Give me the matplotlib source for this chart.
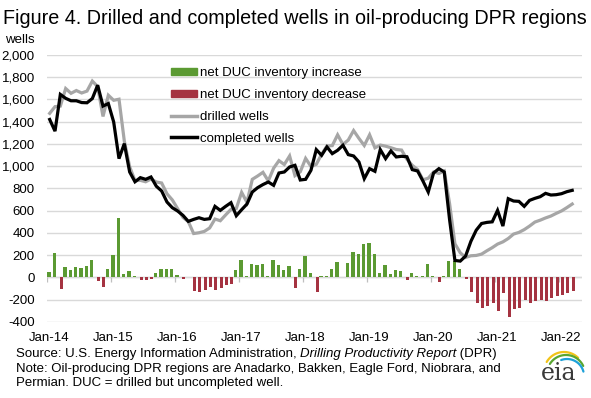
import matplotlib
matplotlib.use('Agg')
import matplotlib.pyplot as plt
import numpy as np
from matplotlib.lines import Line2D
from matplotlib.patches import Patch

plt.rcParams['font.family'] = ['Liberation Sans', 'DejaVu Sans']

# Donnees mensuelles jan-2014 a mars-2022
mois = np.arange(99)
annees = ['Jan-14', 'Jan-15', 'Jan-16', 'Jan-17', 'Jan-18', 'Jan-19', 'Jan-20', 'Jan-21', 'Jan-22']

completed = [1420, 1315, 1645, 1610, 1588, 1588, 1572, 1570, 1608, 1728, 1540, 1563,
             1398, 1068, 1203, 948, 860, 897, 882, 903, 820, 777, 678, 627,
             597, 558, 504, 522, 537, 522, 528, 639, 603, 639, 672, 555,
             609, 660, 768, 807, 835, 858, 828, 939, 948, 993, 1008, 876,
             882, 963, 1149, 1098, 1173, 1113, 1143, 1188, 1104, 1092, 1038, 888,
             978, 954, 1149, 1068, 1137, 1083, 1089, 1085, 969, 957, 867, 768,
             939, 978, 948, 520, 153, 147, 192, 325, 425, 485, 495, 500,
             603, 462, 708, 687, 684, 639, 693, 711, 726, 756, 741, 744,
             753, 771, 783]

drilled = [1475, 1535, 1540, 1698, 1655, 1680, 1658, 1675, 1765, 1715, 1447, 1638,
           1592, 1602, 1225, 995, 870, 873, 860, 885, 858, 849, 752, 697,
           618, 540, 502, 395, 402, 414, 445, 525, 510, 562, 612, 620,
           765, 675, 882, 912, 945, 868, 982, 1050, 1015, 1092, 915, 950,
           1070, 998, 1017, 1107, 1182, 1185, 1282, 1195, 1235, 1320, 1250, 1186,
           1282, 1165, 1190, 1180, 1166, 1150, 1145, 1062, 1008, 970, 878, 892,
           948, 935, 957, 664, 303, 222, 180, 195, 198, 210, 240, 268,
           300, 320, 350, 390, 405, 430, 462, 498, 515, 535, 552, 576,
           598, 628, 660]

net_duc = [50, 220, -105, 90, 63, 90, 83, 99, 153, -33, -90, 72,
           198, 531, 27, 54, 9, -24, -24, -15, 36, 72, 72, 72,
           18, -18, 0, -123, -132, -111, -87, -111, -96, -72, -57, 63,
           153, 12, 117, 108, 117, 12, 153, 114, 63, 102, -96, 72,
           192, 39, -132, 9, 9, 72, 135, 0, 126, 225, 207, 297,
           306, 207, 36, 108, 27, 63, 54, -22, 36, 9, 9, 117,
           9, -42, 9, 144, 150, 72, -15, -132, -231, -276, -258, -231,
           -303, -141, -357, -285, -276, -204, -231, -213, -204, -213, -186, -168,
           -159, -141, -123]

net_duc = np.array(net_duc)
hausse = np.where(net_duc > 0, net_duc, 0)
baisse = np.where(net_duc < 0, net_duc, 0)

vert = '#5b9a32'
rouge = '#a53341'
gris = '#a6a6a6'
grille = '#d9d9d9'

fig = plt.figure(figsize=(5.91, 3.98), dpi=100)
ax = fig.add_axes([0.080, 0.191, 0.904, 0.671])

# Barres (augmentation / diminution du stock de DUC)
ax.bar(mois + 0.31, hausse, width=0.62, color=vert, zorder=2)
ax.bar(mois + 0.61, baisse, width=0.58, color=rouge, zorder=2)
# Courbes des puits fores et completes
ax.plot(mois + 0.45, drilled, color=gris, lw=2.3, zorder=3, solid_joinstyle='miter')
ax.plot(mois + 0.45, completed, color='black', lw=2.3, zorder=4, solid_joinstyle='miter')

ax.set_xlim(0, 100.2)
ax.set_ylim(-400, 2000)
ax.set_yticks(np.arange(-400, 2001, 200))
ax.set_yticklabels([f'{v:,}' for v in range(-400, 2001, 200)])
ax.yaxis.grid(True, color=grille, lw=1.0, zorder=0)
ax.set_axisbelow(True)
ax.tick_params(axis='y', length=0, pad=9, labelsize=9.5)

# Axe horizontal a zero avec petites graduations annuelles
ax.axhline(0, color=grille, lw=1.0, zorder=1)
debut_annee = np.arange(0, 99, 12)
ax.vlines(debut_annee, -40, 0, color='#bfbfbf', lw=0.9, zorder=1)
ax.set_xticks(debut_annee + 0.4)
ax.set_xticklabels(annees)
ax.tick_params(axis='x', length=0, pad=7, labelsize=9.5)

for s in ax.spines.values():
    s.set_visible(False)

# Legende
poignees = [Patch(color=vert), Patch(color=rouge),
            Line2D([], [], color=gris, lw=2.5), Line2D([], [], color='black', lw=2.5)]
ax.legend(poignees, ['net DUC inventory increase', 'net DUC inventory decrease',
                     'drilled wells', 'completed wells'],
          loc='upper left', bbox_to_anchor=(0.2215, 0.975), frameon=False,
          fontsize=9.5, handlelength=1.95, handleheight=0.43, handletextpad=0.25,
          labelspacing=0.75, borderaxespad=0)

# Titre et unite
fig.text(0.005, 0.94, 'Figure 4. Drilled and completed wells in oil-producing DPR regions',
         fontsize=14.2, va='baseline', ha='left')
fig.text(0.008, 0.893, 'wells', fontsize=9.5, va='baseline', ha='left')

# Source et note
t1 = fig.text(0.027, 0.095, 'Source: U.S. Energy Information Administration, ', fontsize=9.5,
              va='bottom', ha='left')
t2 = ax.annotate('Drilling Productivity Report', xy=(1, 0), xycoords=t1, fontsize=9.5,
                 va='bottom', ha='left', style='italic', annotation_clip=False)
ax.annotate(' (DPR)', xy=(1, 0), xycoords=t2, fontsize=9.5, va='bottom', ha='left',
            annotation_clip=False)
fig.text(0.027, 0.058, 'Note: Oil-producing DPR regions are Anadarko, Bakken, Eagle Ford, Niobrara, and',
         fontsize=9.5, va='bottom', ha='left')
fig.text(0.027, 0.023, 'Permian. DUC = drilled but uncompleted well.', fontsize=9.5,
         va='bottom', ha='left')

# Logo eia (repere en pixels de la figure)
logo = fig.add_axes([535 / 591, 3 / 398, 56 / 591, 50 / 398])
logo.set_xlim(535, 591)
logo.set_ylim(395, 345)
logo.axis('off')
logo.text(559, 380, 'eia', family='DejaVu Serif', fontsize=17, color='#3a3a3a',
          ha='center', va='baseline')
for couleur, cx, cy, r, a1, a2 in [('#f2c318', 564, 372, 20, 45, 150),
                                   ('#5aa630', 566, 374, 19, 25, 148),
                                   ('#1da1d8', 567, 376, 17, 15, 110)]:
    t = np.radians(np.linspace(a1, a2, 40))
    logo.plot(cx + r * np.cos(t), cy - r * np.sin(t), color=couleur, lw=1.6,
              solid_capstyle='round')

fig.savefig('out.png', dpi=100)
